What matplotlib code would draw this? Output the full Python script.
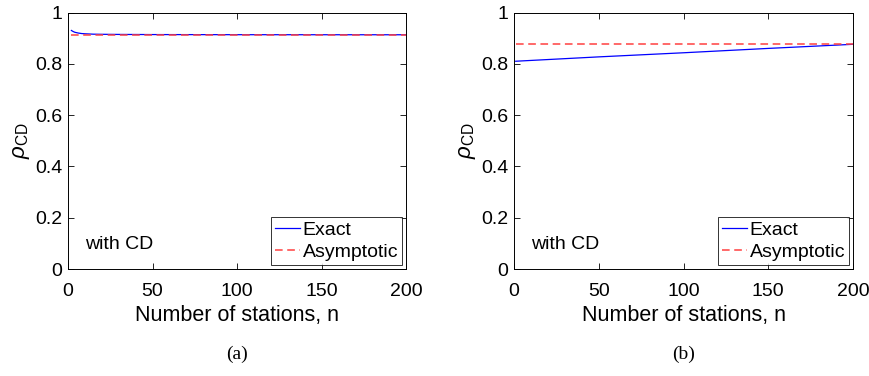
import numpy as np
import matplotlib
matplotlib.use('Agg')
import matplotlib.pyplot as plt

plt.rcParams['font.family'] = 'Liberation Sans'
plt.rcParams['mathtext.fontset'] = 'custom'
plt.rcParams['mathtext.rm'] = 'Liberation Sans'
plt.rcParams['mathtext.it'] = 'Liberation Sans:italic'

# panel (a)
n_a = [2, 3, 4, 6, 8, 10, 15, 20, 30, 50, 100, 150, 200]
exact_a = [0.930, 0.926, 0.923, 0.920, 0.918, 0.917, 0.9155, 0.915, 0.9145, 0.914, 0.9135, 0.9133, 0.9132]
asym_a = [0.912] * len(n_a)

# panel (b)
n_b = [1, 50, 100, 150, 200]
exact_b = [0.810, 0.827, 0.843, 0.860, 0.876]
asym_b = [0.877] * len(n_b)

panels = [(n_a, exact_a, asym_a, '(a)'), (n_b, exact_b, asym_b, '(b)')]

fig = plt.figure(figsize=(8.69, 3.76), dpi=100)
lefts = [68 / 869, 514 / 869]
widths = [338 / 869, 339 / 869]

for i, (n, ex, asy, cap) in enumerate(panels):
    ax = fig.add_axes([lefts[i], 107 / 376, widths[i], 256.5 / 376])
    ax.plot(n, ex, color='blue', lw=0.9, label='Exact')
    ax.plot(n, asy, color='#ff4040', lw=1.1, ls=(0, (5, 3)), label='Asymptotic')
    ax.set_xlim(0, 200)
    ax.set_ylim(0, 1)
    ax.set_xticks([0, 50, 100, 150, 200])
    ax.set_yticks([0, 0.2, 0.4, 0.6, 0.8, 1])
    ax.set_yticklabels(['0', '0.2', '0.4', '0.6', '0.8', '1'])
    ax.tick_params(direction='in', top=True, right=True, labelsize=14, length=4, width=0.6)
    ax.tick_params(axis='x', pad=10)
    ax.tick_params(axis='y', pad=4)
    for s in ax.spines.values():
        s.set_linewidth(0.7)
    ax.set_xlabel('Number of stations, n', fontsize=15.5, labelpad=4)
    ax.set_ylabel(r'$\rho_{\mathrm{CD}}$', fontsize=16, labelpad=2)
    ax.text(10, 0.095, 'with CD', fontsize=14, va='center')
    leg = ax.legend(loc='lower right', fontsize=14, fancybox=False, edgecolor='black',
                    handlelength=1.3, handletextpad=0.15, borderpad=0.2, labelspacing=0.25,
                    borderaxespad=0.2)
    leg.get_frame().set_linewidth(0.7)
    fig.text(lefts[i] + widths[i] / 2, 22 / 376, cap, family='Liberation Serif',
             fontsize=14, ha='center', va='center')

fig.savefig('out.png', dpi=100)
